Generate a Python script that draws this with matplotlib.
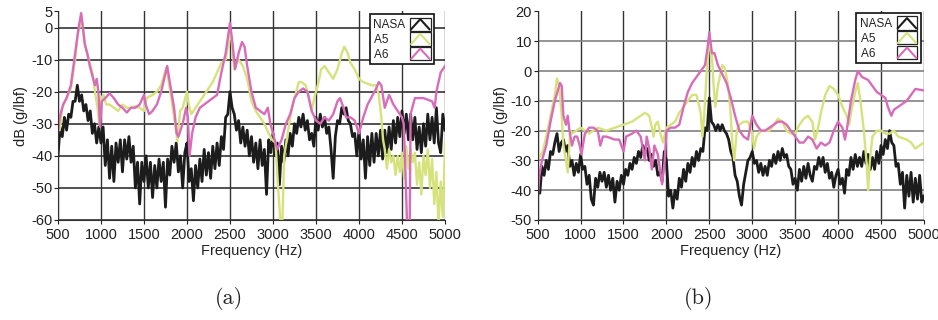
import numpy as np
import matplotlib
matplotlib.use('Agg')
import matplotlib.pyplot as plt
from matplotlib.legend_handler import HandlerBase
from matplotlib.lines import Line2D
from matplotlib.patches import Rectangle

plt.rcParams['font.family'] = ['Liberation Sans', 'DejaVu Sans']
plt.rcParams['axes.unicode_minus'] = False

# NASA measurement, sampled every 25 Hz from 500 to 5000 Hz
nasa_f = np.arange(500, 5001, 25)
nasa_a = [
    -40, -31, -34, -28, -32, -27, -28, -23, -23, -18, -23, -21, -26, -24, -29, -26, -33, -30, -36, -31,
    -36, -31, -43, -35, -47, -37, -48, -36, -42, -35, -45, -35, -41, -34, -42, -37, -50, -42, -55, -42,
    -48, -40, -50, -42, -53, -43, -50, -41, -48, -42, -56, -41, -46, -37, -42, -36, -45, -40, -50, -39,
    -36, -48, -44, -54, -43, -50, -41, -48, -38, -46, -39, -47, -37, -44, -36, -43, -34, -38, -28, -27,
    -20, -25, -27, -32, -29, -36, -31, -37, -32, -40, -34, -42, -36, -44, -35, -43, -38, -52, -35, -39,
    -33, -40, -36, -49, -37, -42, -35, -40, -33, -37, -30, -33, -28, -31, -27, -32, -29, -35, -33, -37,
    -28, -32, -27, -31, -28, -33, -31, -38, -47, -34, -29, -30, -25, -27, -25, -29, -30, -34, -33, -40,
    -32, -41, -35, -47, -34, -43, -33, -42, -33, -40, -32, -41, -32, -39, -31, -38, -29, -36, -28, -34,
    -26, -33, -27, -35, -27, -35, -28, -38, -31, -39, -30, -37, -27, -35, -28, -36, -25, -36, -39, -27,
    -32]
nasa_b = [
    -34, -41, -32, -35, -30, -33, -27, -28, -24, -21, -27, -24, -23, -27, -25, -32, -30, -35, -31, -34,
    -28, -33, -32, -38, -35, -43, -45, -36, -39, -34, -37, -34, -39, -35, -40, -36, -44, -37, -40, -35,
    -38, -33, -35, -31, -33, -29, -31, -27, -29, -25, -27, -26, -30, -28, -32, -30, -35, -34, -37, -27,
    -30, -42, -40, -46, -40, -43, -36, -39, -33, -37, -31, -34, -29, -32, -27, -30, -26, -27, -19, -20,
    -9, -17, -18, -20, -18, -20, -18, -20, -21, -23, -27, -29, -35, -37, -42, -45, -38, -34, -30, -29,
    -27, -31, -30, -34, -31, -35, -32, -35, -30, -32, -28, -31, -27, -30, -26, -29, -28, -32, -33, -38,
    -36, -40, -33, -37, -32, -36, -31, -35, -37, -32, -33, -29, -32, -29, -34, -31, -36, -34, -39, -35,
    -33, -38, -36, -41, -33, -35, -29, -33, -28, -32, -29, -32, -27, -31, -28, -33, -29, -33, -27, -31,
    -25, -28, -23, -26, -20, -24, -25, -32, -31, -38, -34, -46, -35, -42, -34, -44, -36, -43, -35, -44,
    -42]

# A5 model, case (a); last part is the noisy tail every 25 Hz
a5_a_f = [500, 520, 550, 600, 650, 700, 730, 750, 770, 790,
          820, 860, 900, 930, 960, 980, 1000, 1030, 1060, 1100,
          1150, 1200, 1250, 1300, 1350, 1400, 1450, 1500, 1530, 1600,
          1650, 1700, 1760, 1800, 1850, 1890, 1920, 1950, 1990, 2000,
          2020, 2050, 2100, 2200, 2300, 2400, 2450, 2505, 2530, 2550,
          2580, 2600, 2650, 2700, 2750, 2800, 2850, 2900, 2950, 2990,
          3030, 3060, 3090, 3110, 3130, 3160, 3200, 3250, 3300, 3330,
          3380, 3420, 3450, 3480, 3530, 3560, 3600, 3650, 3700, 3750,
          3800, 3830, 3870, 3900, 3950, 4000, 4050, 4150, 4200, 4230,
          4260, 4280] + list(range(4300, 5001, 25))
a5_a_db = [-30, -32, -25, -22, -19, -10, -2, 0, 2.5, 0,
           -6, -10, -14, -20, -25, -30, -22, -21, -24, -24,
           -25, -26, -24, -25, -25, -24.5, -25, -26, -22, -21,
           -20, -18, -12.5, -19, -28, -35.5, -26, -25, -21, -20,
           -24, -27, -25, -21, -17, -11, -10, -1, -7, -13,
           -11, -10, -12, -16, -23, -26, -28, -30, -33, -35,
           -36, -50, -62, -60, -40, -35, -28, -22, -17, -17,
           -18, -22, -26, -22, -17, -13, -12, -14, -16, -13,
           -8, -6, -8, -11, -13, -16, -17, -18, -18, -21,
           -28, -35,
           -38, -44, -38, -42, -40, -46, -40, -45, -39, -47,
           -37, -44, -38, -42, -39, -49, -42, -52, -40, -46,
           -38, -50, -41, -55, -45, -62, -48, -59, -36]

# A6 model, case (a)
a6_a_f = [500, 520, 560, 600, 650, 700, 740, 770, 790, 810,
          840, 870, 900, 930, 950, 970, 990, 1010, 1050, 1100,
          1150, 1200, 1250, 1300, 1350, 1400, 1450, 1500, 1520, 1560,
          1600, 1650, 1700, 1770, 1800, 1850, 1880, 1900, 1950, 1990,
          2010, 2030, 2060, 2100, 2150, 2200, 2250, 2300, 2350, 2400,
          2450, 2500, 2530, 2560, 2600, 2640, 2670, 2700, 2750, 2800,
          2850, 2900, 2940, 2970, 3000, 3050, 3100, 3150, 3200, 3250,
          3300, 3350, 3400, 3450, 3500, 3550, 3600, 3650, 3700, 3750,
          3780, 3820, 3850, 3900, 3950, 4000, 4050, 4100, 4200, 4230,
          4260, 4300, 4350, 4400, 4450, 4500, 4520, 4540, 4560, 4590,
          4600, 4650, 4700, 4750, 4800, 4850, 4880, 4900, 4950, 5000]
a6_a_db = [-33, -28, -24, -22, -18, -8, 0, 4.5, 0, -5,
           -8, -12, -15, -18, -16, -20, -31, -23, -22, -20.5,
           -22, -24, -25, -26.5, -25, -25, -24, -21, -24, -27,
           -26, -24, -20, -12, -17, -25, -33, -34, -30, -25,
           -28, -40, -33, -28, -25, -24, -23, -22, -21, -14,
           -8, 1.5, -5, -13, -8, -4.5, -6, -12, -20, -25,
           -26, -27, -25, -30, -33, -38, -35, -30, -27, -22,
           -20, -19, -20, -26, -29, -30, -28, -29, -27, -23,
           -22, -25, -28, -28, -29, -33, -28, -24, -19, -17,
           -18, -25, -21, -24, -26, -28, -30, -45, -62, -62,
           -27, -22, -22, -22, -22.5, -23, -25, -20, -14, -12]

# A5 model, case (b)
a5_b_f = [500, 520, 560, 600, 650, 700, 725, 750, 780, 800,
          830, 850, 880, 900, 950, 1000, 1050, 1100, 1150, 1200,
          1300, 1400, 1500, 1600, 1700, 1750, 1800, 1830, 1850, 1870,
          1900, 1930, 1960, 2000, 2050, 2100, 2150, 2200, 2250, 2300,
          2350, 2400, 2420, 2440, 2470, 2500, 2530, 2550, 2570, 2600,
          2650, 2680, 2720, 2750, 2770, 2790, 2820, 2850, 2900, 2950,
          3000, 3020, 3050, 3100, 3200, 3300, 3350, 3400, 3450, 3500,
          3550, 3600, 3650, 3700, 3730, 3760, 3800, 3850, 3900, 3950,
          4000, 4050, 4100, 4130, 4150, 4200, 4230, 4260, 4300, 4330,
          4350, 4370, 4400, 4450, 4500, 4550, 4600, 4650, 4700, 4800,
          4850, 4900, 4950, 5000]
a5_b_db = [-30, -29, -27, -22, -15, -8, -2.5, -5, -15, -25,
           -30, -34, -20, -21, -20, -19, -20, -21, -20, -19,
           -20, -19, -18, -17, -15, -14, -15, -19, -22, -18,
           -17, -21, -24, -19, -18, -17, -14, -12, -10, -8,
           -8, -14, -22, -15, 0, 10, 5, -5, -12, -5,
           2, 1, -5, -15, -25, -30, -20, -18, -17, -17,
           -21, -26, -22, -20, -20, -16, -17, -20, -21, -21,
           -18, -16, -15, -17, -23, -20, -14, -8, -5, -6,
           -8, -12, -15, -18, -14, -7, -4, -10, -20, -30,
           -40, -30, -22, -20, -20, -21, -21, -20, -22, -23,
           -24, -26, -25, -24]

# A6 model, case (b)
a6_b_f = [500, 520, 550, 600, 650, 700, 730, 760, 780, 800,
          830, 850, 870, 900, 930, 960, 990, 1010, 1050, 1100,
          1150, 1200, 1230, 1260, 1300, 1400, 1450, 1500, 1530, 1600,
          1650, 1700, 1750, 1770, 1800, 1830, 1860, 1900, 1950, 1980,
          2000, 2050, 2100, 2150, 2200, 2250, 2300, 2350, 2400, 2450,
          2480, 2500, 2530, 2560, 2600, 2650, 2700, 2750, 2800, 2850,
          2900, 2950, 3000, 3050, 3100, 3150, 3200, 3250, 3300, 3350,
          3400, 3450, 3500, 3550, 3600, 3650, 3700, 3750, 3800, 3850,
          3900, 3950, 4000, 4050, 4080, 4100, 4150, 4200, 4230, 4280,
          4350, 4400, 4450, 4500, 4550, 4580, 4620, 4650, 4700, 4800,
          4850, 4900, 5000]
a6_b_db = [-43, -35, -30, -25, -17, -10, -7, -4, -5, -15,
           -18, -15, -20, -25, -22, -22, -25, -28, -21, -19,
           -19, -20, -25, -22, -22, -23, -23, -27, -22, -21,
           -20, -22, -30, -22, -26, -33, -25, -28, -38, -30,
           -20, -19, -19, -18, -12, -7, -4, -2, 0, 2,
           8, 13, 6, 6, 2, -1, -4, -9, -15, -20,
           -22, -23, -15, -18, -20, -20, -19, -18, -17, -17,
           -18, -20, -22, -24, -24, -22, -23, -26, -24, -25,
           -24, -20, -17, -19, -23, -20, -10, -3, 0, -2,
           -3, -5, -7, -8, -9, -12, -15, -13, -12, -10,
           -8, -6, -6.5]

freq_ticks = [500, 1000, 1500, 2000, 2500, 3000, 3500, 4000, 4500, 5000]
ylim_a = (-60, 5)
yticks_a = [5, 0, -10, -20, -30, -40, -50, -60]
ylim_b = (-50, 20)
yticks_b = [20, 10, 0, -10, -20, -30, -40, -50]

# legend labels padded so the short ones line up on the left
labels = ['NASA', 'A5     ', 'A6     ']

c_nasa = '#1c1c1c'
c_a5 = '#d6e27c'
c_a6 = '#d86cb9'


class ChevronHandler(HandlerBase):
    # little boxed "^" used as legend key
    def create_artists(self, legend, orig_handle, xdescent, ydescent,
                       width, height, fontsize, trans):
        x0, y0 = -xdescent, -ydescent
        box = Rectangle((x0, y0), width, height, fill=False, ec='#222222',
                        lw=0.9, transform=trans)
        line = Line2D([x0 + 0.06 * width, x0 + 0.5 * width, x0 + 0.94 * width],
                      [y0 + 0.12 * height, y0 + 0.88 * height, y0 + 0.12 * height],
                      color=orig_handle.get_color(), lw=1.5, transform=trans)
        return [box, line]


def draw_panel(ax, nasa, a5f, a5db, a6f, a6db, ylim, yticks, hgrid_color, legend_anchor):
    l1, = ax.plot(nasa_f, nasa, color=c_nasa, lw=2.0)
    l2, = ax.plot(a5f, a5db, color=c_a5, lw=1.7)
    l3, = ax.plot(a6f, a6db, color=c_a6, lw=1.7)

    ax.set_xlim(500, 5000)
    ax.set_ylim(*ylim)
    ax.set_xticks(freq_ticks)
    ax.set_yticks(yticks)
    ax.tick_params(axis='both', labelsize=10.5, colors='#222222',
                   length=3, width=0.8, pad=1)
    ax.tick_params(axis='x', pad=3)

    ax.xaxis.grid(True, color='#333333', lw=1.0)
    ax.yaxis.grid(True, color=hgrid_color, lw=1.2)
    ax.set_axisbelow(True)
    # no grid line along the top edge
    for t, gl in zip(yticks, ax.yaxis.get_gridlines()):
        if t == ylim[1]:
            gl.set_visible(False)

    ax.spines['top'].set_visible(False)
    ax.spines['right'].set_visible(False)
    ax.spines['left'].set_color('#333333')
    ax.spines['bottom'].set_color('#333333')

    ax.set_xlabel('Frequency (Hz)', fontsize=10.5, color='#222222', labelpad=1)
    ax.set_ylabel('dB (g/lbf)', fontsize=10.5, color='#222222', labelpad=2)

    leg = ax.legend([l1, l2, l3], labels, loc='upper right', bbox_to_anchor=legend_anchor,
                    borderaxespad=0, fontsize=8.5, markerfirst=False,
                    handler_map={Line2D: ChevronHandler()},
                    handlelength=1.75, handleheight=1.35, handletextpad=0.4,
                    labelspacing=0.1, borderpad=0.3, fancybox=False,
                    framealpha=1, edgecolor='#111111')
    leg.get_frame().set_linewidth(1.2)
    for txt in leg.get_texts():
        txt.set_color('#222222')


fig = plt.figure(figsize=(9.38, 3.2), dpi=100)
ax_a = fig.add_axes([0.0618, 0.3125, 0.4126, 0.6516])
ax_b = fig.add_axes([0.5732, 0.3125, 0.4118, 0.6516])

draw_panel(ax_a, nasa_a, a5_a_f, a5_a_db, a6_a_f, a6_a_db, ylim_a, yticks_a,
           '#333333', (0.972, 0.988))
draw_panel(ax_b, nasa_b, a5_b_f, a5_b_db, a6_b_f, a6_b_db, ylim_b, yticks_b,
           '#808080', (0.992, 0.993))

fig.text(229 / 938, 1 - 298 / 320, '(a)', family='cmr10', fontsize=16,
         ha='center', va='center', color='#222222')
fig.text(699 / 938, 1 - 298 / 320, '(b)', family='cmr10', fontsize=16,
         ha='center', va='center', color='#222222')

fig.savefig('out.png', dpi=100)
